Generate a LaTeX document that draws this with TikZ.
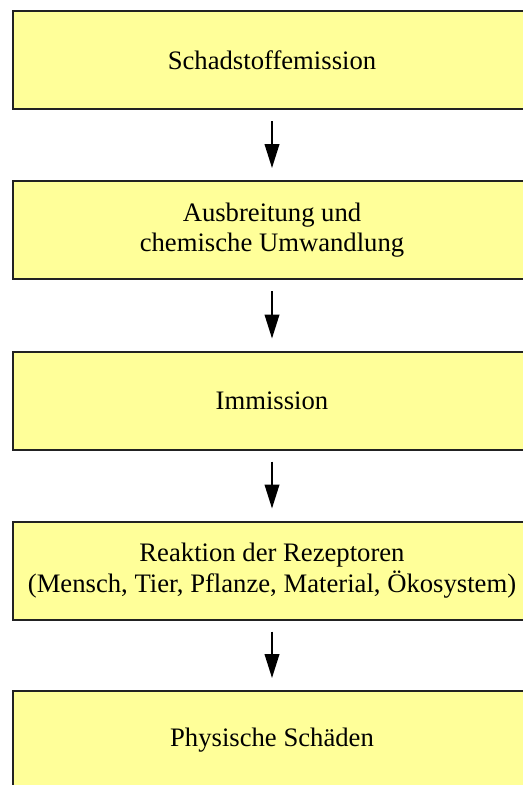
\documentclass[tikz,border=0pt]{standalone}
\usepackage{fontspec}
\setmainfont{Liberation Serif}
\usetikzlibrary{arrows.meta}

\definecolor{boxgelb}{RGB}{255,255,153}
\definecolor{randgrau}{RGB}{34,34,34}

\tikzset{
  stufe/.style={draw=randgrau, line width=1.5pt, fill=boxgelb,
    minimum width=388.5pt, minimum height=73.5pt, align=center,
    inner sep=0pt, font=\fontsize{20}{23}\selectfont},
  pfeil/.style={-{Triangle[length=18pt,width=11pt]}, line width=1.3pt,
    shorten <=8.25pt, shorten >=9pt},
}

\begin{document}
\begin{tikzpicture}[x=0.75pt,y=0.75pt,yscale=-1,xscale=1]
\useasboundingbox (0,0) rectangle (523,785);
\clip (0,0) rectangle (523,785);
%Shape: Rectangle
\node [stufe] (emission) at (272,60) {Schadstoffemission};
%Shape: Rectangle
\node [stufe] (ausbreitung) at (272,230) {Ausbreitung und\\chemische Umwandlung};
%Shape: Rectangle
\node [stufe] (immission) at (272,400.5) {Immission};
%Shape: Rectangle
\node [stufe] (reaktion) at (272,570.5) {Reaktion der Rezeptoren\\(Mensch, Tier, Pflanze, Material, Ökosystem)};
%Shape: Rectangle
\node [stufe] (schaeden) at (272,740) {Physische Schäden};
%Straight Lines
\draw [pfeil] (emission.south) -- (ausbreitung.north);
\draw [pfeil] (ausbreitung.south) -- (immission.north);
\draw [pfeil] (immission.south) -- (reaktion.north);
\draw [pfeil] (reaktion.south) -- (schaeden.north);
\end{tikzpicture}
\end{document}
